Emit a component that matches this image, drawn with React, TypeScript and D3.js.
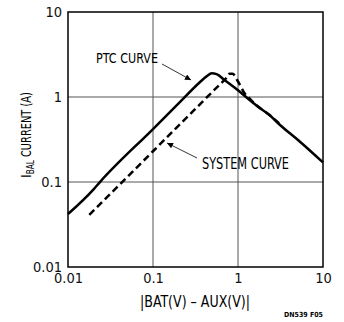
import { useEffect, useRef } from 'react';
import * as d3 from 'd3';

// PTC curve (solid)
const ptcX = [0.01, 0.02, 0.024, 0.1, 0.2, 0.35, 0.43, 0.49, 0.56, 0.7, 1.0, 1.38, 1.82, 2.27, 3.12, 5.36, 10];
const ptcY = [0.042, 0.082, 0.101, 0.42, 0.84, 1.47, 1.76, 1.9, 1.86, 1.57, 1.2, 0.915, 0.736, 0.63, 0.469, 0.298, 0.17];

// system curve (dashed)
const sysX = [0.0178, 0.1, 0.3, 0.6, 0.72, 0.8, 0.86, 1.0, 1.2, 1.38, 1.6, 2.2, 3.2];
const sysY = [0.041, 0.23, 0.69, 1.38, 1.65, 1.88, 1.88, 1.52, 1.1, 0.95, 0.82, 0.645, 0.47];

const tickVals = [0.01, 0.1, 1, 10];
const tickLabels = ['0.01', '0.1', '1', '10'];

const FONT = "'Liberation Sans Narrow', 'Arial Narrow', 'DejaVu Sans Condensed', sans-serif";

const App = () => {
  const ref = useRef<HTMLDivElement>(null);

  useEffect(() => {
    if (!ref.current) return;
    const margin = { top: 12, right: 21, bottom: 55, left: 68 },
      width = 344 - margin.left - margin.right,
      height = 322 - margin.top - margin.bottom;

    d3.select(ref.current).selectAll('svg').remove();

    const root = d3.select(ref.current)
      .append('svg')
      .attr('width', 344)
      .attr('height', 322)
      .style('position', 'absolute')
      .style('left', 0)
      .style('top', 0)
      .style('background', '#fff')
      .style('font-family', FONT);

    const svg = root.append('g')
      .attr('transform', 'translate(' + margin.left + ',' + margin.top + ')');

    const x = d3.scaleLog().domain([0.01, 10]).range([0, width]);
    const y = d3.scaleLog().domain([0.01, 10]).range([height, 0]);

    // grid
    svg.append('g')
      .selectAll('line')
      .data([0.1, 1])
      .join('line')
      .attr('x1', d => x(d)).attr('x2', d => x(d))
      .attr('y1', 0).attr('y2', height)
      .attr('stroke', '#555').attr('stroke-width', 1);
    svg.append('g')
      .selectAll('line')
      .data([0.1, 1])
      .join('line')
      .attr('y1', d => y(d)).attr('y2', d => y(d))
      .attr('x1', 0).attr('x2', width)
      .attr('stroke', '#555').attr('stroke-width', 1);

    svg.append('rect')
      .attr('width', width).attr('height', height)
      .attr('fill', 'none').attr('stroke', '#000').attr('stroke-width', 1.5);

    // tick labels
    const fmt = (d: d3.NumberValue) => tickLabels[tickVals.indexOf(+d)];
    const xAxis = svg.append('g')
      .attr('transform', 'translate(0,' + height + ')')
      .call(d3.axisBottom(x).tickValues(tickVals).tickFormat(fmt).tickSize(0).tickPadding(16));
    const yAxis = svg.append('g')
      .call(d3.axisLeft(y).tickValues(tickVals).tickFormat(fmt).tickSize(0).tickPadding(6));
    [xAxis, yAxis].forEach(a => {
      a.select('.domain').remove();
      a.selectAll('text').attr('font-size', 14.5).attr('font-family', FONT).attr('fill', '#111');
    });
    xAxis.selectAll('text').attr('dy', null).attr('y', 16);

    const line = d3.line<[number, number]>()
      .x(d => x(d[0]))
      .y(d => y(d[1]))
      .curve(d3.curveMonotoneX);

    svg.append('path')
      .datum(ptcX.map((v, i) => [v, ptcY[i]] as [number, number]))
      .attr('fill', 'none')
      .attr('stroke', '#000')
      .attr('stroke-width', 2.5)
      .attr('stroke-linejoin', 'round')
      .attr('d', line);

    svg.append('path')
      .datum(sysX.map((v, i) => [v, sysY[i]] as [number, number]))
      .attr('fill', 'none')
      .attr('stroke', '#000')
      .attr('stroke-width', 2.5)
      .attr('stroke-dasharray', '7,4')
      .attr('d', line);

    // labels and arrows
    root.append('defs').append('marker')
      .attr('id', 'head')
      .attr('viewBox', '0 0 10 10')
      .attr('refX', 10).attr('refY', 5)
      .attr('markerWidth', 9).attr('markerHeight', 6)
      .attr('markerUnits', 'userSpaceOnUse')
      .attr('orient', 'auto')
      .append('path').attr('d', 'M0,0L10,5L0,10Z').attr('fill', '#000');

    root.append('text')
      .attr('x', 96).attr('y', 63)
      .attr('font-size', 14)
      .attr('textLength', 62).attr('lengthAdjust', 'spacingAndGlyphs')
      .text('PTC CURVE');
    root.append('line')
      .attr('x1', 162).attr('y1', 64).attr('x2', 191).attr('y2', 80)
      .attr('stroke', '#000').attr('stroke-width', 0.8)
      .attr('marker-end', 'url(#head)');

    root.append('text')
      .attr('x', 202).attr('y', 168.5)
      .attr('font-size', 15)
      .attr('textLength', 87).attr('lengthAdjust', 'spacingAndGlyphs')
      .text('SYSTEM CURVE');
    root.append('line')
      .attr('x1', 197).attr('y1', 158).attr('x2', 167).attr('y2', 143)
      .attr('stroke', '#000').attr('stroke-width', 0.8)
      .attr('marker-end', 'url(#head)');

    // axis titles
    root.append('text')
      .attr('x', 140).attr('y', 307)
      .attr('font-size', 16)
      .attr('textLength', 110).attr('lengthAdjust', 'spacingAndGlyphs')
      .text('|BAT(V) \u2013 AUX(V)|');

    const yt = root.append('text')
      .attr('transform', 'translate(31,178) rotate(-90)')
      .attr('font-size', 14.5);
    yt.append('tspan').text('I');
    yt.append('tspan').attr('font-size', 10).attr('dy', 3)
      .attr('textLength', 14).attr('lengthAdjust', 'spacingAndGlyphs').text('BAL');
    yt.append('tspan').attr('dy', -3)
      .attr('textLength', 68).attr('lengthAdjust', 'spacingAndGlyphs').text(' CURRENT (A)');

    root.append('text')
      .attr('x', 323).attr('y', 317)
      .attr('text-anchor', 'end')
      .attr('font-size', 7)
      .attr('font-weight', 'bold')
      .text('DN539 F05');
  }, []);

  return <div ref={ref} />;
};

export default App;
